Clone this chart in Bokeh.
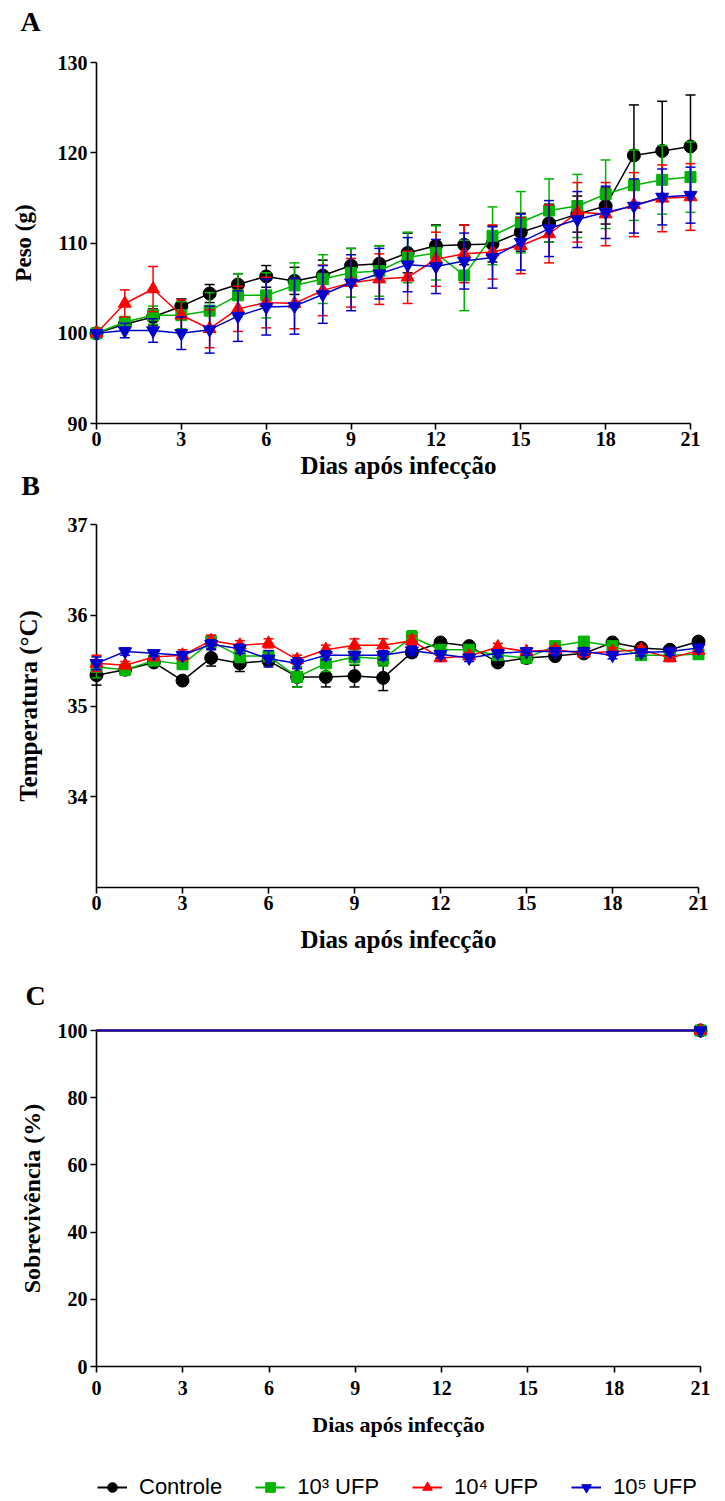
from bokeh.plotting import figure
from bokeh.layouts import column
from bokeh.models import Range1d, FixedTicker, Label, Legend, LegendItem
from bokeh.embed import file_html
from bokeh.resources import INLINE

# ---------------- data ----------------
days = list(range(22))
x_ticks = [0, 3, 6, 9, 12, 15, 18, 21]
group_labels = ["Controle", "10³ UFP", "10⁴ UFP", "10⁵ UFP"]

# Panel A - weight (g)
peso_ticks = [90, 100, 110, 120, 130]
peso_controle = [100, 101.0, 101.8, 103.0, 104.4, 105.4, 106.3, 105.8, 106.4, 107.5, 107.7,
                 108.9, 109.7, 109.8, 109.9, 111.2, 112.2, 113.2, 114.1, 119.7, 120.2, 120.7]
peso_1e3 = [100, 101.25, 102.0, 102.0, 102.5, 104.2, 104.2, 105.3, 106.0, 106.7, 106.9,
            108.4, 108.9, 106.4, 110.8, 112.3, 113.6, 114.1, 115.4, 116.4, 117.0, 117.3]
peso_1e4 = [100, 103.3, 104.9, 102.0, 100.5, 102.7, 103.4, 103.3, 104.75, 105.6, 106.0,
            106.2, 108.2, 108.8, 109.0, 109.7, 111.0, 113.4, 113.2, 114.25, 114.95, 115.1]
peso_1e5 = [100, 100.3, 100.3, 100.0, 100.4, 101.9, 102.9, 103.0, 104.3, 105.6, 106.6,
            107.6, 107.4, 108.0, 108.4, 110.1, 111.6, 112.6, 113.4, 114.1, 115.1, 115.3]
peso_err_controle = [0, 0.5, 0.9, 0.8, 1.0, 1.2, 1.2, 1.5, 1.7, 1.9, 2.0,
                     2.2, 2.3, 2.2, 2.0, 2.1, 2.1, 2.0, 2.0, 5.6, 5.5, 5.7]
peso_err_1e3 = [0, 0.6, 1.0, 1.5, 2.0, 2.4, 2.5, 2.5, 2.7, 2.7, 2.8,
                2.8, 3.0, 3.9, 3.2, 3.4, 3.5, 3.5, 3.8, 3.9, 3.8, 3.9]
peso_err_1e4 = [0, 1.5, 2.5, 1.7, 2.1, 2.5, 2.8, 2.8, 2.8, 2.7, 2.8,
                2.9, 3.0, 3.2, 3.0, 3.1, 3.2, 3.3, 3.5, 3.55, 3.7, 3.7]
peso_err_1e5 = [0, 0.8, 1.3, 1.8, 2.6, 2.8, 3.1, 3.1, 3.2, 3.1, 2.8,
                3.0, 3.0, 3.1, 3.4, 3.1, 3.1, 3.1, 2.9, 3.0, 3.1, 3.1]

# Panel B - temperature (C)
temp_ticks = [34, 35, 36, 37]
temp_min = 33
temp_controle = [35.34, 35.40, 35.48, 35.28, 35.53, 35.47, 35.50, 35.32, 35.32, 35.33, 35.31,
                 35.59, 35.70, 35.66, 35.48, 35.53, 35.55, 35.58, 35.70, 35.64, 35.62, 35.71]
temp_1e3 = [35.43, 35.40, 35.50, 35.46, 35.71, 35.55, 35.55, 35.32, 35.47, 35.54, 35.52,
            35.76, 35.62, 35.62, 35.56, 35.53, 35.66, 35.71, 35.66, 35.56, 35.56, 35.57]
temp_1e4 = [35.47, 35.45, 35.54, 35.56, 35.72, 35.67, 35.69, 35.51, 35.62, 35.67, 35.67,
            35.72, 35.53, 35.55, 35.65, 35.60, 35.62, 35.58, 35.60, 35.62, 35.53, 35.61]
temp_1e5 = [35.47, 35.60, 35.58, 35.56, 35.68, 35.63, 35.52, 35.47, 35.56, 35.56, 35.56,
            35.61, 35.57, 35.53, 35.58, 35.60, 35.60, 35.60, 35.56, 35.59, 35.60, 35.64]
temp_err_controle = [0.11, 0.05, 0.03, 0.02, 0.09, 0.09, 0.05, 0.11, 0.11, 0.12, 0.14,
                     0.05, 0.03, 0.03, 0.04, 0.06, 0.03, 0.03, 0.03, 0.03, 0.03, 0.03]
temp_err_1e3 = [0.12, 0.06, 0.04, 0.05, 0.07, 0.07, 0.06, 0.11, 0.09, 0.08, 0.08,
                0.07, 0.04, 0.04, 0.04, 0.04, 0.04, 0.04, 0.05, 0.04, 0.04, 0.05]
temp_err_1e4 = [0.09, 0.04, 0.04, 0.06, 0.06, 0.05, 0.05, 0.05, 0.05, 0.07, 0.07,
                0.05, 0.04, 0.04, 0.04, 0.04, 0.04, 0.04, 0.04, 0.04, 0.04, 0.04]
temp_err_1e5 = [0.07, 0.04, 0.03, 0.04, 0.05, 0.05, 0.09, 0.06, 0.05, 0.04, 0.05,
                0.05, 0.04, 0.04, 0.04, 0.04, 0.04, 0.04, 0.04, 0.04, 0.04, 0.04]

# Panel C - survival (%)
surv_ticks = [0, 20, 40, 60, 80, 100]
surv_days = [0, 21]
surv_controle = [100, 100]
surv_1e3 = [100, 100]
surv_1e4 = [100, 100]
surv_1e5 = [100, 100]

# ---------------- style ----------------
COLORS = ["#000000", "#00B400", "#FF0000", "#0000CC"]
MARKERS = ["circle", "square", "triangle", "inverted_triangle"]
SIZES = [13, 11, 13, 13]
SERIF = "Liberation Serif"
SANS = "Liberation Sans"
W = 725
LEFT = 96          # common frame left (column aligns frames)
RIGHT_EDGE = 700   # common frame right
XLABEL = "Dias após infecção"


def make_panel(fig_top, height, x21px, ytop_px, ybot_px, ylo, yhi):
    d0, d1 = days[0], days[-1]
    ppd = (x21px - LEFT) / (d1 - d0)
    x_end = d1 + (RIGHT_EDGE - x21px) / ppd
    p = figure(width=W, height=height,
               x_range=Range1d(d0, x_end),
               y_range=Range1d(ylo, yhi),
               output_backend="svg", toolbar_location=None,
               min_border_left=LEFT, min_border_right=W - RIGHT_EDGE,
               min_border_top=ytop_px - fig_top,
               min_border_bottom=fig_top + height - ybot_px)
    p.outline_line_color = None
    p.xgrid.visible = False
    p.ygrid.visible = False
    p.background_fill_color = "white"
    p.border_fill_color = "white"
    return p


def style_axes(p, yticks, ylabel, xlabel_size, ylabel_size, ylabel_standoff,
               xmajor_standoff, xlabel_standoff):
    for ax in (p.xaxis[0], p.yaxis[0]):
        ax.axis_line_color = "black"
        ax.axis_line_width = 1.6
        ax.major_tick_line_color = "black"
        ax.major_tick_line_width = 1.6
        ax.major_tick_out = 6
        ax.major_tick_in = 0
        ax.minor_tick_line_color = None
        ax.major_label_text_font = SERIF
        ax.major_label_text_font_style = "bold"
        ax.major_label_text_font_size = "20px"
        ax.major_label_text_color = "black"
        ax.axis_label_text_font = SERIF
        ax.axis_label_text_font_style = "bold"
        ax.axis_label_text_color = "black"
    xa = p.xaxis[0]
    ya = p.yaxis[0]
    xa.ticker = FixedTicker(ticks=x_ticks)
    xa.bounds = (days[0], days[-1])
    xa.axis_label = XLABEL
    xa.axis_label_text_font_size = xlabel_size
    xa.major_label_standoff = xmajor_standoff
    xa.axis_label_standoff = xlabel_standoff
    ya.ticker = FixedTicker(ticks=yticks)
    ya.axis_label = ylabel
    ya.axis_label_text_font_size = ylabel_size
    ya.major_label_standoff = 3
    ya.axis_label_standoff = ylabel_standoff


def draw_series(p, ys, errs, k):
    color = COLORS[k]
    xs_e = [d for d, e in zip(days, errs) if e > 0]
    lo = [y - e for y, e in zip(ys, errs) if e > 0]
    hi = [y + e for y, e in zip(ys, errs) if e > 0]
    p.segment(x0=xs_e, y0=lo, x1=xs_e, y1=hi, line_color=color, line_width=1.5,
              level="overlay")
    p.scatter(x=xs_e + xs_e, y=lo + hi, marker="dash", size=10,
              line_color=color, line_width=1.5, level="overlay")
    p.line(days, ys, line_color=color, line_width=1.5, level="overlay")
    p.scatter(days, ys, marker=MARKERS[k], size=SIZES[k],
              fill_color=color, line_color=color, level="overlay")


def letter_label(p, text, x, y, side):
    # side-panel label (not clipped); canvas units with a top-left origin
    p.add_layout(Label(x=x, y=y, x_units="canvas", y_units="canvas", text=text,
                       text_font=SERIF, text_font_style="bold", text_font_size="28px",
                       text_align="center", text_baseline="middle", text_color="black"),
                 side)


# ---------------- panel A ----------------
A_TOP, A_H = 0, 512
pA = make_panel(A_TOP, A_H, 690, 62, 424, peso_ticks[0], peso_ticks[-1])
style_axes(pA, peso_ticks, "Peso (g)", "25px", "23px", 19, 2, 3)
for k, (ys, es) in enumerate([(peso_controle, peso_err_controle), (peso_1e3, peso_err_1e3),
                              (peso_1e4, peso_err_1e4), (peso_1e5, peso_err_1e5)]):
    draw_series(pA, ys, es, k)
letter_label(pA, "A", 30, 21 - A_TOP, "above")
letter_label(pA, "B", 30, 485 - A_TOP, "below")

# ---------------- panel B ----------------
B_TOP, B_H = 512, 503
pB = make_panel(B_TOP, B_H, 698, 524, 887, temp_min, temp_ticks[-1])
style_axes(pB, temp_ticks, "Temperatura (°C)", "25px", "25px", 23, 2, 13)
for k, (ys, es) in enumerate([(temp_controle, temp_err_controle), (temp_1e3, temp_err_1e3),
                              (temp_1e4, temp_err_1e4), (temp_1e5, temp_err_1e5)]):
    draw_series(pB, ys, es, k)
letter_label(pB, "C", 35, 995 - B_TOP, "below")

# ---------------- panel C ----------------
C_TOP, C_H = 1015, 430
pC = make_panel(C_TOP, C_H, 700, 1030, 1366, surv_ticks[0], surv_ticks[-1])
style_axes(pC, surv_ticks, "Sobrevivência (%)", "22px", "24px", 10, 8, 14)
surv_series = [surv_controle, surv_1e3, surv_1e4, surv_1e5]
for k, ys in enumerate(surv_series):
    pC.line(surv_days, ys, line_color=COLORS[k], line_width=2, level="overlay")
    pC.scatter(surv_days[-1:], ys[-1:], marker=MARKERS[k], size=SIZES[k],
               fill_color=COLORS[k], line_color=COLORS[k], level="overlay")

# ---------------- legend strip ----------------
pD = figure(width=W, height=56, output_backend="svg", toolbar_location=None,
            x_axis_location=None, y_axis_location=None,
            min_border_left=LEFT, min_border_right=W - RIGHT_EDGE,
            min_border_top=0, min_border_bottom=0)
pD.outline_line_color = None
pD.xgrid.visible = False
pD.ygrid.visible = False
items = []
for k, ys in enumerate(surv_series):
    ln = pD.line(surv_days, ys, line_color=COLORS[k], line_width=2, visible=False)
    sc = pD.scatter(surv_days[-1:], ys[-1:], marker=MARKERS[k], size=SIZES[k],
                    fill_color=COLORS[k], line_color=COLORS[k], visible=False)
    items.append(LegendItem(label=group_labels[k], renderers=[ln, sc]))

legend = Legend(items=items, orientation="horizontal", location=(1, 1),
                border_line_color=None, background_fill_alpha=0,
                inactive_fill_alpha=0,
                label_text_font=SANS, label_text_font_size="22px", label_text_color="black",
                glyph_width=30, glyph_height=24, label_standoff=12, spacing=33,
                padding=0, margin=0, click_policy="none")
pD.add_layout(legend)

layout = column(pA, pB, pC, pD, spacing=0)
open("out.html", "w").write(file_html(layout, INLINE))
